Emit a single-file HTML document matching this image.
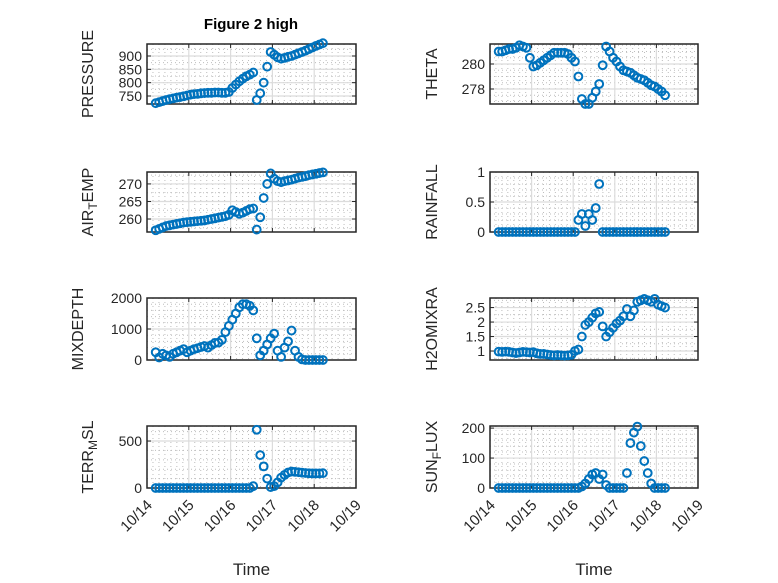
<!DOCTYPE html>
<html><head><meta charset="utf-8"><style>
html,body{margin:0;padding:0;background:#fff;}
svg{display:block;font-family:"Liberation Sans",sans-serif;}
</style></head><body>
<svg id="fig" width="778" height="583" viewBox="0 0 778 583" xmlns="http://www.w3.org/2000/svg">
<rect width="778" height="583" fill="#fff"/>
<text x="251" y="29" text-anchor="middle" font-size="15" font-weight="bold" fill="#000">Figure 2 high</text>
</svg>
<script>
// hours since 10/14 00:00 (sample times)
const hours = [5,7,9,11,13,15,17,19,21,23,25,27,29,31,33,35,37,39,41,43,45,47,49,51,53,55,57,59,61,63,65,67,69,71,73,75,77,79,81,83,85,87,89,91,93,95,97,99,101];
const pressure = [723,727,731,735,738,741,744,746,749,752,755,757,758,760,761,762,762,763,763,762,762,765,780,793,805,815,824,830,838,735,760,800,860,915,905,895,890,893,897,900,905,910,915,920,926,932,938,943,948];
const airTemp = [256.8,257.2,257.6,258,258.2,258.4,258.6,258.8,259,259.1,259.2,259.3,259.4,259.5,259.6,259.8,260,260.2,260.4,260.6,260.8,261.2,262.5,262,261.5,261.8,262.3,262.8,263,257,260.5,266,270,273,271.5,270.8,270.5,270.8,271,271.2,271.5,271.8,272,272.2,272.5,272.7,272.9,273.1,273.3];
const mixDepth = [250,80,200,150,100,200,250,300,350,250,300,350,380,420,450,400,480,550,560,650,900,1100,1300,1500,1700,1800,1800,1750,1600,700,150,300,500,700,850,300,100,400,600,950,300,100,20,0,0,0,0,0,0];
const terrMsl = [0,0,0,0,0,0,0,0,0,0,0,0,0,0,0,0,0,0,0,0,0,0,0,0,0,0,0,0,20,620,350,230,100,10,20,60,110,140,165,175,172,168,163,160,157,155,155,155,158];
const theta = [281.0,281.0,281.1,281.2,281.2,281.3,281.5,281.4,281.3,280.5,279.8,279.9,280.1,280.3,280.5,280.7,280.9,280.9,280.9,280.9,280.8,280.5,280.2,279.0,277.2,276.8,276.8,277.3,277.8,278.4,279.9,281.4,281.0,280.5,280.2,279.8,279.5,279.4,279.3,279.1,278.9,278.8,278.7,278.5,278.3,278.2,278.0,277.8,277.5];
const rainfall = [0,0,0,0,0,0,0,0,0,0,0,0,0,0,0,0,0,0,0,0,0,0,0,0.2,0.3,0.1,0.3,0.2,0.4,0.8,0,0,0,0,0,0,0,0,0,0,0,0,0,0,0,0,0,0,0];
const h2oMixRa = [0.98,0.97,0.98,0.97,0.95,0.93,0.95,0.97,0.96,0.95,0.96,0.92,0.9,0.9,0.88,0.86,0.85,0.86,0.85,0.84,0.85,0.87,1.0,1.05,1.5,1.9,2.0,2.15,2.3,2.35,1.85,1.5,1.65,1.8,1.95,2.05,2.2,2.45,2.2,2.4,2.7,2.75,2.8,2.75,2.7,2.8,2.6,2.55,2.5];
const sunFlux = [0,0,0,0,0,0,0,0,0,0,0,0,0,0,0,0,0,0,0,0,0,0,0,0,5,15,30,45,50,30,45,10,0,0,0,0,0,50,150,185,205,140,90,50,15,0,0,0,0];
const xTickLabels = ["10/14","10/15","10/16","10/17","10/18","10/19"];
const pressureTicks = [750,800,850,900];
const airTempTicks = [260,265,270];
const mixTicks = [0,1000,2000];
const terrTicks = [0,500];
const thetaTicks = [278,280];
const rainTicks = [0,0.5,1];
const h2oTicks = [1,1.5,2,2.5];
const sunTicks = [0,100,200];

const NS="http://www.w3.org/2000/svg";
const svg=document.getElementById('fig');
function mk(tag,attrs,parent){const e=document.createElementNS(NS,tag);for(const k in attrs)e.setAttribute(k,attrs[k]);(parent||svg).appendChild(e);return e;}

const panels=[
 {id:'pressure',data:pressure,ticks:pressureTicks,dom:[720,945],minor:25,x0:147,x1:356,y0:44,y1:104,label:['PRESSURE'],lx:93},
 {id:'air-temp',data:airTemp,ticks:airTempTicks,dom:[256.3,273.4],minor:2.5,x0:147,x1:356,y0:172,y1:232,label:['AIR','T','EMP'],lx:93},
 {id:'mixdepth',data:mixDepth,ticks:mixTicks,dom:[0,2000],minor:200,x0:147,x1:356,y0:298,y1:360,label:['MIXDEPTH'],lx:83},
 {id:'terr-msl',data:terrMsl,ticks:terrTicks,dom:[0,660],minor:100,x0:147,x1:356,y0:426,y1:488,label:['TERR','M','SL'],lx:93,xt:true},
 {id:'theta',data:theta,ticks:thetaTicks,dom:[276.8,281.6],minor:0.5,x0:490,x1:698,y0:44,y1:104,label:['THETA'],lx:437},
 {id:'rainfall',data:rainfall,ticks:rainTicks,dom:[0,1],minor:0.1,x0:490,x1:698,y0:172,y1:232,label:['RAINFALL'],lx:437},
 {id:'h2omixra',data:h2oMixRa,ticks:h2oTicks,dom:[0.69,2.83],minor:0.25,x0:490,x1:698,y0:298,y1:360,label:['H2OMIXRA'],lx:437},
 {id:'sun-flux',data:sunFlux,ticks:sunTicks,dom:[0,207],minor:20,x0:490,x1:698,y0:426,y1:488,label:['SUN','F','LUX'],lx:437,xt:true}
];

panels.forEach(p=>{
 const g=mk('g',{});
 
 
 const xs=d=>p.x0+(d/5)*(p.x1-p.x0);
 const ys=v=>p.y1-(v-p.dom[0])/(p.dom[1]-p.dom[0])*(p.y1-p.y0);
 for(let d=0;d<5;d++)for(let k=1;k<7;k++){const x=xs(d+k/7);
  mk('line',{x1:x,x2:x,y1:p.y0,y2:p.y1,stroke:'#bdbdbd','stroke-width':1,'stroke-dasharray':'1 3'},g);}
 const start=Math.ceil(p.dom[0]/p.minor)*p.minor;
 for(let v=start;v<=p.dom[1]+1e-9;v+=p.minor){const y=ys(v);
  mk('line',{x1:p.x0,x2:p.x1,y1:y,y2:y,stroke:'#bdbdbd','stroke-width':1,'stroke-dasharray':'1 3'},g);}
 for(let d=0;d<=5;d++){const x=xs(d);mk('line',{x1:x,x2:x,y1:p.y0,y2:p.y1,stroke:'#dcdcdc','stroke-width':1.2},g);}
 p.ticks.forEach(v=>{const y=ys(v);mk('line',{x1:p.x0,x2:p.x1,y1:y,y2:y,stroke:'#dcdcdc','stroke-width':1.2},g);});
 p.ticks.forEach(v=>{const y=ys(v);
  mk('line',{x1:p.x0,x2:p.x0+4,y1:y,y2:y,stroke:'#262626','stroke-width':1},g);
  mk('line',{x1:p.x1,x2:p.x1-4,y1:y,y2:y,stroke:'#262626','stroke-width':1},g);
  const t=mk('text',{x:p.x0-5,y:y+5,'text-anchor':'end','font-size':14,fill:'#262626'},g);
  
  
  t.textContent=String(v);});
 for(let d=0;d<=5;d++){const x=xs(d);
  mk('line',{x1:x,x2:x,y1:p.y1,y2:p.y1-4,stroke:'#262626','stroke-width':1},g);
  mk('line',{x1:x,x2:x,y1:p.y0,y2:p.y0+4,stroke:'#262626','stroke-width':1},g);
  if(p.xt){const ax=x+6, ay=p.y1+18;
   const t=mk('text',{x:ax,y:ay,'text-anchor':'end','font-size':15,fill:'#262626',transform:`rotate(-45 ${ax} ${ay})`},g);
   
   
   t.textContent=xTickLabels[d];}}
 const b=mk('rect',{x:p.x0,y:p.y0,width:p.x1-p.x0,height:p.y1-p.y0,fill:'none',stroke:'#262626','stroke-width':1.5},g);
 
 
 p.data.forEach((v,i)=>{
  const c=mk('circle',{cx:xs(hours[i]/24),cy:ys(v),r:3.9,fill:'none',stroke:'#0072BD','stroke-width':2},g);
  
  });
 const cy=(p.y0+p.y1)/2;
 const t=mk('text',{x:p.lx,y:cy,'text-anchor':'middle','font-size':16,fill:'#262626',transform:`rotate(-90 ${p.lx} ${cy})`},g);
 
 
 if(p.label.length===1){t.textContent=p.label[0];}
 else{const a=mk('tspan',{},t);a.textContent=p.label[0];
  const s=mk('tspan',{dy:4,'font-size':12},t);s.textContent=p.label[1];
  const c2=mk('tspan',{dy:-4},t);c2.textContent=p.label[2];}
 if(p.xt){const xt=mk('text',{x:(p.x0+p.x1)/2,y:575,'text-anchor':'middle','font-size':17,fill:'#262626'},g);
  
  
  xt.textContent='Time';}
});
</script>
</body></html>
